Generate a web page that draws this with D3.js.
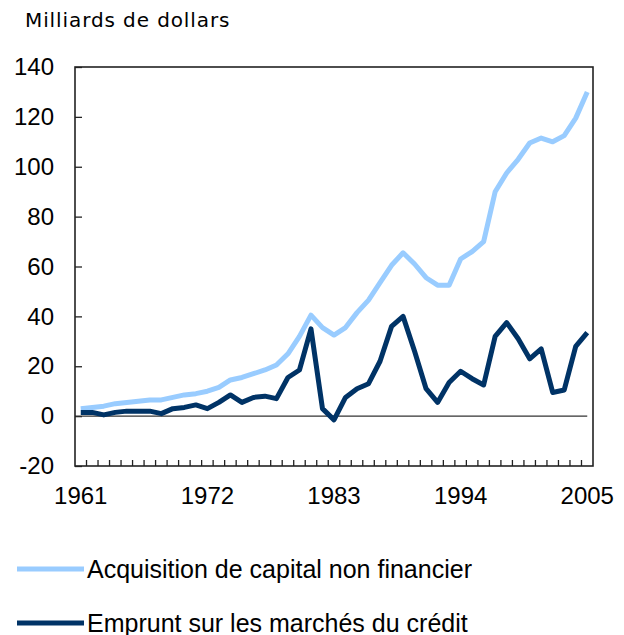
<!DOCTYPE html>
<html>
<head>
<meta charset="utf-8">
<script src="https://cdn.jsdelivr.net/npm/d3@7"></script>
<style>
  html, body { margin: 0; padding: 0; background: #fff; }
  svg { display: block; }
</style>
</head>
<body>
<svg id="chart" width="624" height="635"></svg>
<script>
// Milliards de dollars, 1961-2005
const years = d3.range(1961, 2006);
const yearLabels = [1961, 1972, 1983, 1994, 2005];
const yTicks = [-20, 0, 20, 40, 60, 80, 100, 120, 140];

const acquisition = [
  3, 3.5, 4, 5, 5.5, 6, 6.5, 6.5, 7.5, 8.5,
  9, 10, 11.5, 14.5, 15.5, 17, 18.5, 20.5, 25, 32,
  40.5, 35.5, 32.5, 35.5, 41.5, 46.5, 53.5, 60.5, 65.5, 61,
  55.5, 52.5, 52.5, 63, 66, 70, 90, 97.5, 103, 109.5,
  111.5, 110, 112.5, 119.5, 130
];
const emprunt = [
  1.5, 1.5, 0.5, 1.5, 2, 2, 2, 1, 3, 3.5,
  4.5, 3, 5.5, 8.5, 5.5, 7.5, 8, 7, 15.5, 18.5,
  35, 3, -1.5, 7.5, 11, 13, 22, 36, 40, 26,
  11, 5.5, 13.5, 18, 15, 12.5, 32, 37.5, 31, 23,
  27, 9.5, 10.5, 28, 33.5
];

const seriesNames = ['Acquisition de capital non financier', 'Emprunt sur les marchés du crédit'];
const seriesColors = ['#99ccff', '#003366'];

const plotLeft = 75, plotRight = 593, plotTop = 67, plotBottom = 466;

const svg = d3.select('#chart');

const x = d3.scaleBand().domain(years).range([plotLeft, plotRight]).padding(0);
const y = d3.scaleLinear().domain([-20, 140]).range([plotBottom, plotTop]);
const cx = yr => x(yr) + x.bandwidth() / 2;

// title
svg.append('text')
  .attr('x', 25)
  .attr('y', 27)
  .attr('font-family', 'DejaVu Sans, sans-serif')
  .attr('font-size', 20)
  .attr('letter-spacing', 0.9)
  .attr('fill', '#000')
  .text('Milliards de dollars');

// y axis labels + inner ticks
const yAxis = svg.append('g')
  .attr('transform', `translate(${plotLeft},0)`)
  .call(d3.axisLeft(y).tickValues(yTicks).tickSizeInner(-7).tickSizeOuter(0).tickPadding(21).tickFormat(d => String(d)));
yAxis.select('.domain').remove();
yAxis.selectAll('line').attr('stroke', '#222').attr('stroke-width', 1.3);
yAxis.selectAll('text')
  .attr('font-family', 'Liberation Sans, Arial, sans-serif')
  .attr('font-size', 24)
  .attr('fill', '#000');

// x axis labels
const xAxis = svg.append('g')
  .attr('transform', `translate(0,${plotBottom})`)
  .call(d3.axisBottom(x).tickValues(yearLabels).tickSize(0).tickPadding(21));
xAxis.select('.domain').remove();
xAxis.selectAll('text')
  .attr('font-family', 'Liberation Sans, Arial, sans-serif')
  .attr('font-size', 24)
  .attr('fill', '#000');

// x inner ticks at band boundaries
svg.append('g')
  .selectAll('line')
  .data(years.slice(1))
  .join('line')
  .attr('x1', d => x(d))
  .attr('x2', d => x(d))
  .attr('y1', plotBottom)
  .attr('y2', plotBottom - 6)
  .attr('stroke', '#222')
  .attr('stroke-width', 1.3);

// zero line
svg.append('line')
  .attr('x1', plotLeft)
  .attr('x2', cx(2005))
  .attr('y1', y(0))
  .attr('y2', y(0))
  .attr('stroke', '#333')
  .attr('stroke-width', 1.2);

// frame
svg.append('rect')
  .attr('x', plotLeft)
  .attr('y', plotTop)
  .attr('width', plotRight - plotLeft)
  .attr('height', plotBottom - plotTop)
  .attr('fill', 'none')
  .attr('stroke', '#222')
  .attr('stroke-width', 1.6);

const line = d3.line()
  .x((d, i) => cx(years[i]))
  .y(d => y(d));

[acquisition, emprunt].forEach((values, i) => {
  svg.append('path')
    .datum(values)
    .attr('fill', 'none')
    .attr('stroke', seriesColors[i])
    .attr('stroke-width', 5)
    .attr('stroke-linejoin', 'round')
    .attr('d', line);
});

// legend
const legend = svg.append('g')
  .selectAll('g')
  .data(seriesNames)
  .join('g')
  .attr('transform', (d, i) => `translate(0,${569 + i * 54})`);

legend.append('line')
  .attr('x1', 17)
  .attr('x2', 84)
  .attr('stroke', (d, i) => seriesColors[i])
  .attr('stroke-width', 5);

legend.append('text')
  .attr('x', 87)
  .attr('y', 9)
  .attr('font-family', 'Liberation Sans, Arial, sans-serif')
  .attr('font-size', 25)
  .attr('fill', '#000')
  .text(d => d);
</script>
</body>
</html>
